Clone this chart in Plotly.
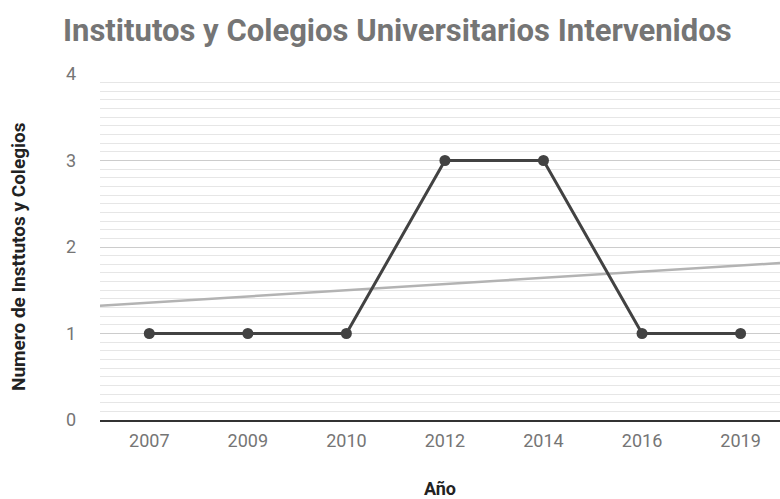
import numpy as np
import plotly.graph_objects as go

years = ["2007", "2009", "2010", "2012", "2014", "2016", "2019"]
values = [1, 1, 1, 3, 3, 1, 1]
y_ticks = [0, 1, 2, 3, 4]

idx = list(range(len(years)))
x_range = [-0.5, 6.4]

# linear trendline (least squares on category index)
slope, intercept = np.polyfit(idx, values, 1)
trend_x = x_range
trend_y = [slope * x + intercept for x in trend_x]

fig = go.Figure()
fig.add_trace(go.Scatter(
    x=trend_x, y=trend_y, mode="lines",
    line=dict(color="#b3b3b3", width=2.5),
    hoverinfo="skip", showlegend=False,
))
fig.add_trace(go.Scatter(
    x=idx, y=values, mode="lines+markers",
    line=dict(color="#424242", width=3),
    marker=dict(color="#424242", size=11),
    showlegend=False, cliponaxis=False,
))

W, H = 780, 499
L, R, T, B = 100, 0, 74, 79
pw, ph = W - L - R, H - T - B

fig.update_layout(
    width=W, height=H,
    margin=dict(l=L, r=R, t=T, b=B),
    paper_bgcolor="white", plot_bgcolor="white",
    font=dict(family="Roboto", color="#757575"),
    title=dict(
        text="<b>Institutos y Colegios Universitarios Intervenidos</b>",
        font=dict(family="Roboto", size=31, color="#757575"),
        x=63 / W, xanchor="left", xref="container",
        y=1 - 30 / H, yanchor="middle", yref="container",
    ),
    xaxis=dict(
        range=x_range, tickmode="array", tickvals=idx, ticktext=years,
        showgrid=False, zeroline=False,
        showline=True, linecolor="#333333", linewidth=1.5,
        ticks="", ticklabelstandoff=4,
        tickfont=dict(family="Roboto", size=18, color="#757575"),
        title=dict(text="<b>Año</b>", standoff=34,
                   font=dict(family="Roboto", size=18, color="#222222")),
    ),
    yaxis=dict(
        range=[0, 4], tickmode="array", tickvals=y_ticks,
        showgrid=True, gridcolor="#cccccc", gridwidth=1,
        zeroline=False, ticks="", ticklabelstandoff=23,
        tickfont=dict(family="Roboto", size=18, color="#757575"),
        minor=dict(dtick=0.1, showgrid=True, gridcolor="#e6e6e6", gridwidth=1),
    ),
    annotations=[dict(
        text="<b>Numero de Insttutos y Colegios</b>",
        textangle=-90, showarrow=False,
        xref="paper", yref="paper",
        x=(18 - L) / pw, y=(H - B - 257) / ph,
        xanchor="center", yanchor="middle",
        font=dict(family="Roboto", size=19, color="#222222"),
    )],
)

fig.write_html(
    "out.html",
    config={"displayModeBar": False},
    post_script="document.body.style.margin='0';document.body.style.overflow='hidden';",
)
